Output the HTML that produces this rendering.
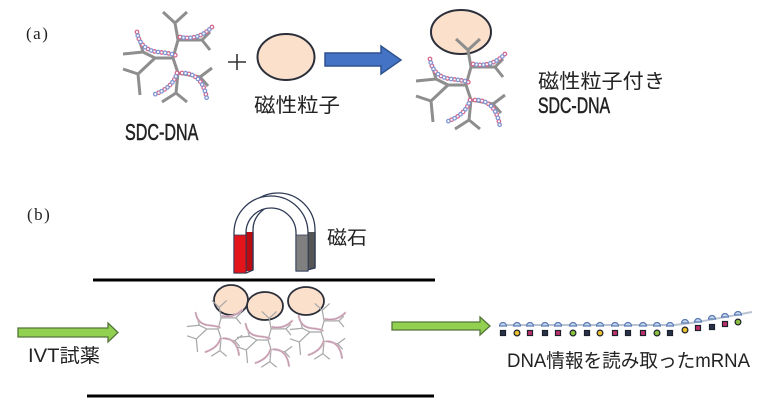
<!DOCTYPE html>
<html><head><meta charset="utf-8"><style>
html,body{margin:0;padding:0;background:#fff;}
svg{display:block;}
text{fill:#222;}
</style></head><body>
<svg width="768" height="414" viewBox="0 0 768 414" xmlns="http://www.w3.org/2000/svg">
<defs>
  <g id="sdcA">
    <path d="M0,0 L5,-18 L2,-35 M-10,-46 L2,-35 L14,-46 M5,-18 L29,-18 M37,-26 L29,-18 L37,-8 M0,0 L-18,0 L-30,-6 M-50,-4 L-30,-6 L-36,-26 M-18,0 L-35,16 M-50,11 L-35,16 L-33,37 M0,0 L5,15 L27,19 M39,10 L27,19 L35,28 M5,15 L3,35 M-11,44 L3,35 L14,44" fill="none" stroke="#8e8e8e" stroke-width="3" stroke-linejoin="round"/>
    <g fill="none" stroke-linecap="round">
      <path d="M-36,-26 Q-33,-8 -15,-6 T3,-2 M7,-21 Q25,-17 39,-31 M9,15 Q30,15 34,42 M4,15 Q0,30 -20,37" stroke="#d46a90" stroke-width="4.8" stroke-dasharray="0 7"/>
      <path d="M-36,-26 Q-33,-8 -15,-6 T3,-2 M7,-21 Q25,-17 39,-31 M9,15 Q30,15 34,42 M4,15 Q0,30 -20,37" stroke="#8095d2" stroke-width="4.8" stroke-dasharray="0 7" stroke-dashoffset="3.5"/>
      <path d="M-36,-26 Q-33,-8 -15,-6 T3,-2 M7,-21 Q25,-17 39,-31 M9,15 Q30,15 34,42 M4,15 Q0,30 -20,37" stroke="#fff" stroke-width="2.2" stroke-dasharray="0 3.5"/>
    </g>
  </g>
  <g id="sdcB">
    <path d="M0,0 L5,-18 L2,-35 M-10,-46 L2,-35 L14,-46 M5,-18 L29,-18 M37,-26 L29,-18 L37,-8 M0,0 L-18,0 L-30,-6 M-50,-4 L-30,-6 L-36,-26 M-18,0 L-35,16 M-50,11 L-35,16 L-33,37 M0,0 L5,15 L27,19 M39,10 L27,19 L35,28 M5,15 L3,35 M-11,44 L3,35 L14,44" fill="none" stroke="#a8a8a8" stroke-width="2" stroke-linejoin="round"/>
    <g fill="none" stroke-linecap="round">
      <path d="M-36,-26 Q-33,-8 -15,-6 T3,-2 M7,-21 Q25,-17 39,-31 M9,15 Q30,15 34,42 M4,15 Q0,30 -20,37" stroke="#dcc0cc" stroke-width="3.6"/>
      <path d="M-36,-26 Q-33,-8 -15,-6 T3,-2 M7,-21 Q25,-17 39,-31 M9,15 Q30,15 34,42 M4,15 Q0,30 -20,37" stroke="#b98aa2" stroke-width="1.6" stroke-dasharray="1 2"/>
    </g>
  </g>
</defs>

<!-- (a) -->
<text x="26" y="39" font-family="'Liberation Serif',serif" font-size="17" letter-spacing="1.5">(a)</text>

<use href="#sdcA" transform="translate(173,58)"/>

<path d="M228,62 H246 M237,54 V70" stroke="#333" stroke-width="1.6"/>

<ellipse cx="286" cy="57" rx="28.5" ry="23" fill="#fbe0cc" stroke="#2b2f3a" stroke-width="2"/>

<polygon points="325,53 381,53 381,46 401,60 381,74 381,66 325,66" fill="#4472c4" stroke="#2f528f" stroke-width="1.5"/>

<ellipse cx="461" cy="32" rx="30" ry="22" fill="#fbe0cc" stroke="#2b2f3a" stroke-width="2"/>
<use href="#sdcA" transform="translate(466,85)"/>

<text transform="translate(125,140) scale(0.7,1)" font-family="'Liberation Sans',sans-serif" font-size="23" stroke="#222" stroke-width="0.5">SDC-DNA</text>
<text x="254" y="112" font-family="'Noto Sans CJK JP',sans-serif" font-size="20" textLength="86" lengthAdjust="spacingAndGlyphs">磁性粒子</text>
<text x="538" y="88" font-family="'Noto Sans CJK JP',sans-serif" font-size="20" textLength="127" lengthAdjust="spacingAndGlyphs">磁性粒子付き</text>
<text transform="translate(538,113) scale(0.72,1)" font-family="'Liberation Sans',sans-serif" font-size="22" stroke="#222" stroke-width="0.5">SDC-DNA</text>

<!-- (b) -->
<text x="27" y="220" font-family="'Liberation Serif',serif" font-size="17" letter-spacing="1.5">(b)</text>

<!-- magnet -->
<g stroke="#2f3a55" stroke-width="1.3" stroke-linejoin="round">
  <path d="M241,270 L241,230 A37,37 0 0 1 315,230 L315,268 L303,268 L303,230 A25,25 0 0 0 253,230 L253,270 Z" fill="#fff"/>
  <rect x="246" y="232" width="7" height="39" fill="#b80c12" stroke="none"/>
  <rect x="303" y="232" width="12" height="36" fill="#555" stroke="none"/>
  <path d="M253,232 L253,270 M315,232 L315,268 M246,273 L253,270 M307,270 L315,268" fill="none"/>
  <path d="M234,273 L234,233 A37,37 0 0 1 308,233 L308,271 L296,271 L296,233 A25,25 0 0 0 246,233 L246,273 Z" fill="#fff"/>
  <rect x="234" y="235" width="12" height="38" fill="#e3151b" stroke="#2f3a55" stroke-width="0.8"/>
  <rect x="296" y="235" width="12" height="36" fill="#808080" stroke="#2f3a55" stroke-width="0.8"/>
</g>
<text x="327" y="244" font-family="'Noto Sans CJK JP',sans-serif" font-size="19" textLength="40" lengthAdjust="spacingAndGlyphs">磁石</text>

<!-- channel lines -->
<line x1="93" y1="280" x2="435" y2="280" stroke="#000" stroke-width="3"/>
<line x1="87" y1="396" x2="434" y2="396" stroke="#000" stroke-width="3"/>

<!-- particles with SDC -->
<ellipse cx="231" cy="300" rx="17" ry="15" fill="#fbe0cc" stroke="#2b2f3a" stroke-width="1.8"/>
<ellipse cx="265" cy="306" rx="18" ry="14" fill="#fbe0cc" stroke="#2b2f3a" stroke-width="1.8"/>
<ellipse cx="306" cy="301" rx="18" ry="14" fill="#fbe0cc" stroke="#2b2f3a" stroke-width="1.8"/>
<use href="#sdcB" transform="translate(218,329) scale(0.62)"/>
<use href="#sdcB" transform="translate(268,340) scale(0.62)"/>
<use href="#sdcB" transform="translate(321,332) scale(0.62)"/>

<!-- green arrows -->
<polygon points="18,328 108,328 108,323 118,332.5 108,342 108,337 18,337" fill="#92d050" stroke="#55753a" stroke-width="1.3"/>
<polygon points="392,322 480,322 480,317 490,326 480,335 480,330 392,330" fill="#92d050" stroke="#55753a" stroke-width="1.3"/>

<text x="28" y="362" font-family="'Liberation Sans','Noto Sans CJK JP',sans-serif" font-size="19" textLength="72" lengthAdjust="spacingAndGlyphs">IVT試薬</text>

<!-- mRNA -->
<path d="M500,325 L672,325 C690,324 720,318 752,312" fill="none" stroke="#b9c3d2" stroke-width="2"/>
<g stroke-width="1.2">
  <g fill="#c6d6ee" stroke="#5c7cb4">
    <path d="M499.5,326 A3.5,3.5 0 0 1 506.5,326 Z"/>
    <path d="M513.5,326 A3.5,3.5 0 0 1 520.5,326 Z"/>
    <path d="M526.5,326 A3.5,3.5 0 0 1 533.5,326 Z"/>
    <path d="M541.5,326 A3.5,3.5 0 0 1 548.5,326 Z"/>
    <path d="M554.5,326 A3.5,3.5 0 0 1 561.5,326 Z"/>
    <path d="M569.5,326 A3.5,3.5 0 0 1 576.5,326 Z"/>
    <path d="M583.5,326 A3.5,3.5 0 0 1 590.5,326 Z"/>
    <path d="M596.5,326 A3.5,3.5 0 0 1 603.5,326 Z"/>
    <path d="M611.5,326 A3.5,3.5 0 0 1 618.5,326 Z"/>
    <path d="M624.5,326 A3.5,3.5 0 0 1 631.5,326 Z"/>
    <path d="M639.5,326 A3.5,3.5 0 0 1 646.5,326 Z"/>
    <path d="M653.5,326 A3.5,3.5 0 0 1 660.5,326 Z"/>
    <path d="M666.5,326 A3.5,3.5 0 0 1 673.5,326 Z"/>
    <path d="M681.5,323 A3.5,3.5 0 0 1 688.5,323 Z"/>
    <path d="M694.5,322 A3.5,3.5 0 0 1 701.5,322 Z"/>
    <path d="M708.5,319 A3.5,3.5 0 0 1 715.5,319 Z"/>
    <path d="M721.5,317 A3.5,3.5 0 0 1 728.5,317 Z"/>
    <path d="M734.5,315 A3.5,3.5 0 0 1 741.5,315 Z"/>
  </g>
  <g stroke="#1a1f2a">
    <rect x="500.5" y="330.5" width="5" height="5" fill="#27324a"/>
    <circle cx="517" cy="333" r="2.9" fill="#e8c030"/>
    <rect x="527.5" y="330.5" width="5" height="5" fill="#c0306a"/>
    <rect x="542.5" y="330.5" width="5" height="5" fill="#27324a"/>
    <rect x="555.5" y="330.5" width="5" height="5" fill="#c0306a"/>
    <circle cx="573" cy="333" r="2.9" fill="#8cc040"/>
    <rect x="584.5" y="330.5" width="5" height="5" fill="#27324a"/>
    <circle cx="600" cy="333" r="2.9" fill="#e8c030"/>
    <rect x="612.5" y="330.5" width="5" height="5" fill="#c0306a"/>
    <rect x="625.5" y="330.5" width="5" height="5" fill="#27324a"/>
    <rect x="640.5" y="330.5" width="5" height="5" fill="#c0306a"/>
    <circle cx="657" cy="333" r="2.9" fill="#8cc040"/>
    <rect x="667.5" y="330.5" width="5" height="5" fill="#27324a"/>
    <circle cx="685" cy="330" r="2.9" fill="#e8c030"/>
    <rect x="695.5" y="325.5" width="5" height="5" fill="#c0306a"/>
    <rect x="709.5" y="324.5" width="5" height="5" fill="#27324a"/>
    <rect x="722.5" y="321.5" width="5" height="5" fill="#c0306a"/>
    <circle cx="738" cy="322" r="2.9" fill="#8cc040"/>
  </g>
</g>

<text x="507" y="367" font-family="'Liberation Sans','Noto Sans CJK JP',sans-serif" font-size="19" textLength="243" lengthAdjust="spacingAndGlyphs">DNA情報を読み取ったmRNA</text>
</svg>
</body></html>
